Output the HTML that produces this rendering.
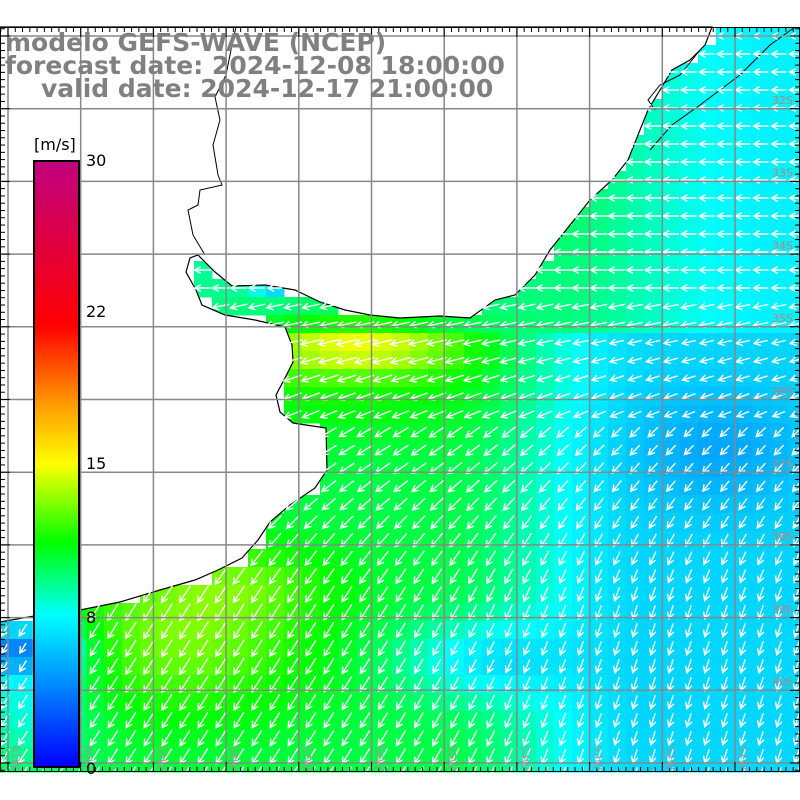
<!DOCTYPE html>
<html><head><meta charset="utf-8"><style>
body{margin:0;background:#fff;width:800px;height:800px;overflow:hidden}
svg{display:block}
</style></head><body>
<svg id="s" width="800" height="800" xmlns="http://www.w3.org/2000/svg" font-family="DejaVu Sans, Liberation Sans, sans-serif">
<defs>
<linearGradient id="cb" x1="0" y1="1" x2="0" y2="0">
<stop offset="0" stop-color="#0000ff"/>
<stop offset="0.25" stop-color="#00ffff"/>
<stop offset="0.37" stop-color="#00ff00"/>
<stop offset="0.5" stop-color="#ffff00"/>
<stop offset="0.6" stop-color="#ff9900"/>
<stop offset="0.73" stop-color="#ff0000"/>
<stop offset="1" stop-color="#c0007f"/>
</linearGradient>
</defs>
<g id="cells"></g>
<g id="land"></g>
<g id="arrows" stroke="#fff" stroke-width="1.4" fill="none"></g>
<g id="grid" stroke="#888" stroke-width="1.5"></g>
<g id="frame"></g>
</svg>
<script>
const NS="http://www.w3.org/2000/svg";
const $=id=>document.getElementById(id);
function el(p,t,a,txt){const e=document.createElementNS(NS,t);for(const k in a)e.setAttribute(k,a[k]);if(txt!==undefined)e.textContent=txt;p.appendChild(e);return e;}
const land=[[0,27],[712,27],[705,45],[690,60],[672,70],[660,90],[648,110],[638,135],[628,160],[612,180],[590,200],[570,225],[550,250],[535,275],[515,295],[495,300],[470,318],[440,316],[400,318],[370,315],[345,310],[320,302],[295,290],[265,285],[232,286],[215,272],[198,255],[190,258],[186,272],[196,290],[202,305],[225,315],[255,320],[285,327],[292,345],[293,362],[285,378],[276,395],[280,412],[293,423],[326,428],[327,470],[315,488],[290,505],[270,522],[258,540],[242,558],[218,570],[195,580],[160,590],[120,602],[80,610],[40,615],[0,622]];
function inPoly(x,y,p){let c=false;for(let i=0,j=p.length-1;i<p.length;j=i++){const [xi,yi]=p[i],[xj,yj]=p[j];if(((yi>y)!=(yj>y))&&(x<(xj-xi)*(y-yi)/(yj-yi)+xi))c=!c;}return c;}
function g(x,y,cx,cy,sx,sy){return Math.exp(-(((x-cx)/sx)**2+((y-cy)/sy)**2));}
function sm(a,b,v){let t=Math.min(1,Math.max(0,(v-a)/(b-a)));return t*t*(3-2*t);}
function speed(x,y){
 let s;
 if(y<330) s=9.4-1.8*sm(560,780,x)+0.6*g(x,y,560,200,80,120);
 else s=10.5-3.8*sm(440,650,x);
 s+=3.2*g(x,y,360,345,100,28);
 s+=1.4*g(x,y,330,370,200,60);
 s+=2.6*g(x,y,180,640,140,80);
 s+=1.4*g(x,y,240,580,100,40);
 s-=1.5*g(x,y,720,450,90,60);
 s-=3*g(x,y,480,660,80,40);
 s-=6*g(x,y,15,648,60,28);
 s-=2.5*g(x,y,30,700,60,60);
 s-=3*g(x,y,280,290,25,10);
 return s;
}
const stops=[[0,[0,0,255]],[8,[0,255,255]],[11.5,[0,255,0]],[15,[255,255,0]],[18,[255,153,0]],[22,[255,0,0]],[30,[192,0,127]]];
function col(v){v=Math.max(0,Math.min(30,v));for(let i=1;i<stops.length;i++){if(v<=stops[i][0]){const [a,ca]=stops[i-1],[b,cb]=stops[i];const t=(v-a)/(b-a);return `rgb(${ca.map((c,k)=>Math.round(c+(cb[k]-c)*t)).join(',')})`;}}return 'rgb(192,0,127)';}
const C=$('cells'),A=$('arrows');
const S=18;
for(let y=27;y<772;y+=S){for(let x=-4;x<800;x+=S){
 const cx=x+S/2,cy=y+S/2;
 if(inPoly(cx,cy,land))continue;
 const v=speed(cx,cy);
 el(C,'rect',{x:x,y:y,width:S+0.5,height:Math.min(S,772-y)+0.5,fill:col(v)});
 let ang;
 if(cy<300) ang=180;
 else if(cy<420) ang=168-10*sm(330,420,cy);
 else ang=150-28*sm(420,620,cy);
 if(cy>=420) ang-=14*sm(350,650,cx);
 const a=ang*Math.PI/180,Lg=8+v*0.9;
 const x1=cx-Math.cos(a)*Lg/2,y1=cy-Math.sin(a)*Lg/2,x2=cx+Math.cos(a)*Lg/2,y2=cy+Math.sin(a)*Lg/2;
 const h=7,b1=a+Math.PI-0.5,b2=a+Math.PI+0.5;
 el(A,'path',{d:`M${x1.toFixed(1)},${y1.toFixed(1)}L${x2.toFixed(1)},${y2.toFixed(1)}M${(x2+h*Math.cos(b1)).toFixed(1)},${(y2+h*Math.sin(b1)).toFixed(1)}L${x2.toFixed(1)},${y2.toFixed(1)}L${(x2+h*Math.cos(b2)).toFixed(1)},${(y2+h*Math.sin(b2)).toFixed(1)}`});
}}
const L=$('land');
el(L,'polygon',{points:land.map(p=>p.join(',')).join(' '),fill:'#fff',stroke:'#000','stroke-width':1.2});
el(L,'polyline',{points:'236,27 232,45 226,75 215,97 220,120 213,145 218,175 222,185 200,190 198,205 188,210 193,235 205,255',fill:'none',stroke:'#000','stroke-width':1});
el(L,'polyline',{points:'795,27 770,45 740,75 700,105 672,125 650,150',fill:'none',stroke:'#000','stroke-width':1});
el(L,'polyline',{points:'700,50 680,75 660,85 648,100 655,110',fill:'none',stroke:'#000','stroke-width':1});
const G=$('grid');
for(let i=0;i<11;i++){const x=8+72.7*i;el(G,'line',{x1:x,y1:27,x2:x,y2:772});}
for(let i=0;i<11;i++){const y=36+72.7*i;el(G,'line',{x1:0,y1:y,x2:800,y2:y});}
const F=$('frame');
el(F,'rect',{x:0.5,y:27.5,width:799,height:744,fill:'none',stroke:'#000','stroke-width':1});
for(let i=-1;i<110;i++){const x=8+7.27*i;if(x<0||x>800)continue;const l=(i%10==0)?10:5;
 el(F,'line',{x1:x,y1:27,x2:x,y2:27+l,stroke:'#000'});el(F,'line',{x1:x,y1:772,x2:x,y2:772-l,stroke:'#000'});}
for(let i=-1;i<104;i++){const y=36+7.27*i;if(y<27||y>772)continue;const l=(i%10==0)?10:5;
 el(F,'line',{x1:0,y1:y,x2:l,y2:y,stroke:'#000'});el(F,'line',{x1:800,y1:y,x2:800-l,y2:y,stroke:'#000'});}
const lats=['32S','33S','34S','35S','36S','37S','38S','39S','40S'];
lats.forEach((t,i)=>el(F,'text',{x:772,y:104+72.7*i,'font-size':11,fill:'#c08080'},t));
const lons=['61W','60W','59W','58W','57W','56W','55W','54W','53W','52W','51W'];
lons.forEach((t,i)=>{const x=12+72.7*i;el(F,'text',{x:x,y:745,'font-size':11,fill:'#999',transform:`rotate(90 ${x} 745)`},t);});
el(F,'rect',{x:33,y:160,width:47,height:608,fill:'#000'});
el(F,'rect',{x:35,y:162,width:43,height:604,fill:'url(#cb)'});
el(F,'text',{x:34,y:150,'font-size':16,fill:'#000'},'[m/s]');
[['30',160],['22',311],['15',463],['8',617],['0',768]].forEach(([t,y])=>el(F,'text',{x:86,y:y+6,'font-size':16,fill:'#000'},t));
const T=[['modelo GEFS-WAVE (NCEP)',5,51],['forecast date: 2024-12-08 18:00:00',5,74],['valid date: 2024-12-17 21:00:00',41,97]];
T.forEach(([t,x,y])=>el(F,'text',{x:x,y:y,'font-size':25,'font-weight':'bold',fill:'#808080'},t));
</script>
</body></html>
